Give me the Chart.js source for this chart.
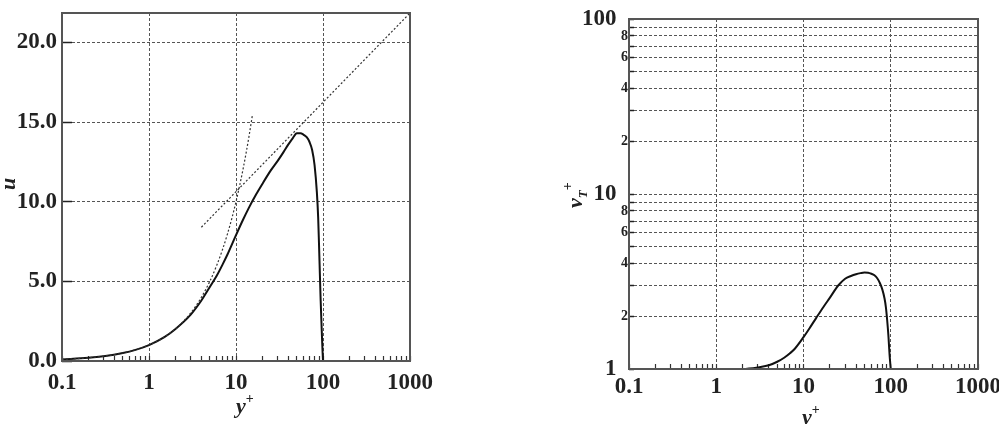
<!DOCTYPE html>
<html><head><meta charset="utf-8">
<script src="https://cdn.jsdelivr.net/npm/chart.js@4.4.1/dist/chart.umd.min.js"></script>
<style>
html,body{margin:0;padding:0;width:999px;height:424px;overflow:hidden;background:#fff;}
.box{position:absolute;top:0;height:424px;}
#wrapL{left:0;width:480px;}
#wrapR{left:540px;width:480px;}
.title{position:absolute;font-family:"Liberation Serif",serif;font-weight:bold;font-style:italic;font-size:22px;line-height:22px;white-space:nowrap;color:#222;}
.sup{position:relative;font-style:normal;font-size:14px;top:-10px;}
.sub{position:relative;font-size:13px;top:5px;}
.rot{transform-origin:0 0;transform:rotate(-90deg);}
</style></head>
<body>
<div class="box" id="wrapL"><canvas id="cL" width="480" height="424"></canvas></div>
<div class="box" id="wrapR"><canvas id="cR" width="480" height="424"></canvas></div>
<div class="title" style="left:236px;top:395px;">y<span class="sup">+</span></div>
<div class="title" style="left:802px;top:406px;">y<span class="sup">+</span></div>
<div class="title rot" style="left:-3px;top:190px;">u<span class="sup" style="top:-14px">+</span></div>
<div class="title rot" style="left:564px;top:208px;">ν<span class="sub">T</span><span class="sup">+</span></div>
<script>
// ---- data ----
const yPlusU = [0.1,0.2,0.3,0.5,0.7,1,1.5,2,3,4,5,6,7,8,10,12,14,17,20,25,30,35,40,45,50,55,60,65,70,75,80,85,88,90,92,94,96,98,99,100];
const uPlus  = [0.1,0.2,0.3,0.5,0.7,1.0,1.5,2.0,2.9,3.8,4.65,5.35,6.05,6.7,7.9,8.85,9.6,10.45,11.1,11.95,12.55,13.1,13.6,14.0,14.3,14.3,14.2,14.05,13.75,13.25,12.3,10.6,9.0,7.3,5.5,3.8,2.4,1.1,0.5,0];
const linearLawY = [0.1,0.2,0.5,1,1.5,2,3,4,5,6,7,8,9,10,11,12,13,14,15.5];
const linearLawU = [0.1,0.2,0.5,1,1.5,2,3,4,5,6,7,8,9,10,11,12,13,14,15.5];
const logLawY = [4, 1000];
const logLawU = [8.4, 21.85];

const yPlusNu = [0.1,0.5,1,2,3,4,5,6,7,8,10,12,14,17,20,25,30,35,40,45,50,55,60,65,70,75,80,85,88,91,94,97,100];
const nuTPlus = [1,1,1,1,1.02,1.05,1.10,1.16,1.23,1.31,1.52,1.74,1.96,2.27,2.55,3.0,3.28,3.40,3.48,3.53,3.56,3.55,3.50,3.43,3.30,3.10,2.85,2.52,2.25,1.9,1.55,1.2,1.0];

// ---- ticks ----
const xTickValues = [0.1,0.2,0.3,0.4,0.5,0.6,0.7,0.8,0.9,1,2,3,4,5,6,7,8,9,10,20,30,40,50,60,70,80,90,100,200,300,400,500,600,700,800,900,1000];
const xTickLabels = ['0.1','','','','','','','','','1','','','','','','','','','10','','','','','','','','','100','','','','','','','','','1000'];
const xMajorValues = [0.1,1,10,100,1000];
const uTickValues = [0,5,10,15,20];
const uTickLabels = ['0.0','5.0','10.0','15.0','20.0'];
const nuTickValues = [1,2,3,4,5,6,7,8,9,10,20,30,40,50,60,70,80,90,100];
const nuTickLabels = ['1','2','','4','','6','','8','','10','2','','4','','6','','8','','100'];
const nuMajorValues = [1,10,100];

const FONT = '"Liberation Serif", "Times New Roman", serif';
const GRID = '#555';
const BIG = 23;

const framePlugin = {
  id: 'frame',
  afterDatasetsDraw(chart) {
    const {ctx, chartArea: a} = chart;
    ctx.save();
    ctx.strokeStyle = '#555';
    ctx.lineWidth = 2;
    ctx.strokeRect(a.left, a.top, a.right - a.left, a.bottom - a.top);
    ctx.restore();
  }
};

function xScale(height, pad) {
  return {
    type: 'logarithmic', min: 0.1, max: 1000,
    afterBuildTicks: s => { s.ticks = xTickValues.map(v => ({value: v})); },
    afterFit: s => { s.height = height; s.paddingLeft = 0; s.paddingRight = 0; },
    ticks: {
      autoSkip: false, maxRotation: 0, minRotation: 0, padding: pad, color: '#222',
      font: {family: FONT, weight: 'bold', size: BIG},
      callback: (v, i) => xTickLabels[i]
    },
    grid: {
      color: c => (c.tick && xMajorValues.includes(c.tick.value)) ? GRID : 'rgba(0,0,0,0)',
      lineWidth: 1, drawTicks: true, tickLength: -5, tickColor: '#333', tickWidth: 1.2, tickBorderDash: []
    },
    border: {display: false, dash: [3, 2]}
  };
}

Chart.defaults.animation = false;

new Chart(document.getElementById('cL'), {
  type: 'scatter',
  data: {
    datasets: [
      {data: linearLawY.map((x, i) => ({x, y: linearLawU[i]})), showLine: true, borderColor: '#333', borderWidth: 1.2, borderDash: [2, 2], pointRadius: 0, cubicInterpolationMode: 'monotone'},
      {data: logLawY.map((x, i) => ({x, y: logLawU[i]})), showLine: true, borderColor: '#333', borderWidth: 1.2, borderDash: [2, 2], pointRadius: 0},
      {data: yPlusU.map((x, i) => ({x, y: uPlus[i]})), showLine: true, borderColor: '#111', borderWidth: 2, pointRadius: 0, cubicInterpolationMode: 'monotone'}
    ]
  },
  options: {
    responsive: false, devicePixelRatio: 1, animation: false,
    layout: {padding: {left: 0, top: 13, right: 70, bottom: 0}},
    plugins: {legend: {display: false}, tooltip: {enabled: false}},
    scales: {
      x: xScale(63, 13),
      y: {
        type: 'linear', min: 0, max: 21.85,
        afterBuildTicks: s => { s.ticks = uTickValues.map(v => ({value: v})); },
        afterFit: s => { s.width = 62; s.paddingTop = 0; s.paddingBottom = 0; },
        ticks: {
          padding: 15, color: '#222', autoSkip: false,
          font: {family: FONT, weight: 'bold', size: BIG},
          callback: (v, i) => uTickLabels[i]
        },
        grid: {color: GRID, lineWidth: 1, drawTicks: true, tickLength: -10, tickColor: '#222', tickWidth: 1.5, tickBorderDash: []},
        border: {display: false, dash: [3, 2]}
      }
    }
  },
  plugins: [framePlugin]
});

new Chart(document.getElementById('cR'), {
  type: 'scatter',
  data: {
    datasets: [
      {data: yPlusNu.map((x, i) => ({x, y: nuTPlus[i]})), showLine: true, borderColor: '#111', borderWidth: 2, pointRadius: 0, cubicInterpolationMode: 'monotone'}
    ]
  },
  options: {
    responsive: false, devicePixelRatio: 1, animation: false,
    layout: {padding: {left: 0, top: 19, right: 42, bottom: 0}},
    plugins: {legend: {display: false}, tooltip: {enabled: false}},
    scales: {
      x: xScale(55, 9),
      y: {
        type: 'logarithmic', min: 1, max: 100,
        afterBuildTicks: s => { s.ticks = nuTickValues.map(v => ({value: v})); },
        afterFit: s => { s.width = 89; s.paddingTop = 0; s.paddingBottom = 0; },
        ticks: {
          padding: 6, color: '#222', autoSkip: false,
          font: c => ({family: FONT, weight: 'bold', size: (c.tick && nuMajorValues.includes(c.tick.value)) ? BIG : 14}),
          callback: (v, i) => nuTickLabels[i] + (nuMajorValues.includes(nuTickValues[i]) ? '\u2002' : '')
        },
        grid: {color: GRID, lineWidth: 1, drawTicks: true, tickLength: -5, tickColor: '#222', tickWidth: 1.5, tickBorderDash: []},
        border: {display: false, dash: [3, 2]}
      }
    }
  },
  plugins: [framePlugin]
});
</script>
</body></html>
